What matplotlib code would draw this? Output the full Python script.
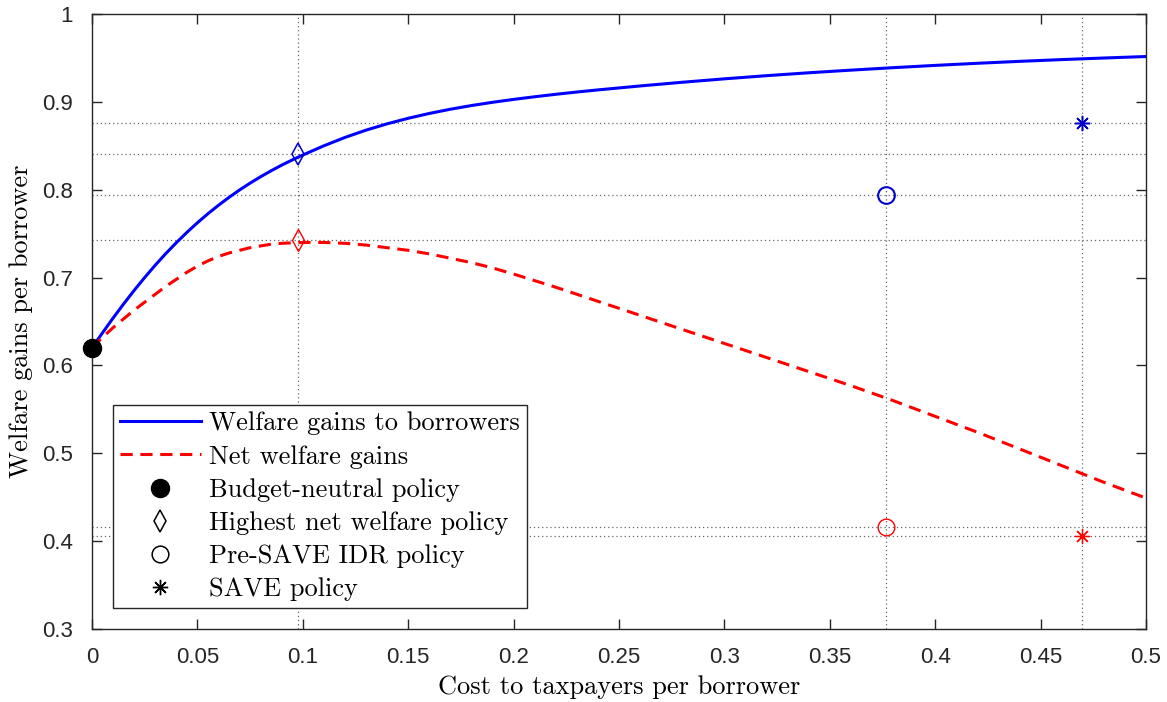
import matplotlib
matplotlib.use('Agg')
import matplotlib.pyplot as plt
from matplotlib.lines import Line2D

# welfare gains to borrowers (blue solid)
cost_w = [0, 0.005, 0.01, 0.015, 0.02, 0.025, 0.03, 0.035, 0.04, 0.045, 0.05, 0.055,
          0.06, 0.065, 0.07, 0.075, 0.08, 0.085, 0.09, 0.095, 0.10, 0.11, 0.12, 0.13,
          0.14, 0.15, 0.16, 0.17, 0.18, 0.19, 0.20, 0.21, 0.22, 0.23, 0.24, 0.26, 0.28, 0.30,
          0.32, 0.34, 0.36, 0.38, 0.40, 0.42, 0.44, 0.46, 0.48, 0.50]
gain_w = [0.6200, 0.6372, 0.6539, 0.6700, 0.6854, 0.7001, 0.7141, 0.7273, 0.7397, 0.7514,
          0.7624, 0.7727, 0.7823, 0.7913, 0.7997, 0.8075, 0.8148, 0.8216, 0.8280, 0.8339,
          0.8395, 0.8500, 0.8595, 0.8678, 0.8750, 0.8813, 0.8868, 0.8916, 0.8958, 0.8995,
          0.9028, 0.9058, 0.9086, 0.9112, 0.9136, 0.9181, 0.9223, 0.9262, 0.9298, 0.9331,
          0.9361, 0.9389, 0.9415, 0.9439, 0.9461, 0.9481, 0.9499, 0.9516]

# net welfare gains (red dashed)
cost_n = [0, 0.005, 0.01, 0.015, 0.02, 0.025, 0.03, 0.035, 0.04, 0.045, 0.05, 0.055,
          0.06, 0.065, 0.07, 0.075, 0.08, 0.085, 0.09, 0.10, 0.11, 0.12, 0.13, 0.14,
          0.15, 0.16, 0.17, 0.18, 0.19, 0.20, 0.22, 0.24, 0.26, 0.28, 0.30, 0.32, 0.34,
          0.36, 0.38, 0.40, 0.42, 0.44, 0.46, 0.48, 0.50]
gain_n = [0.620, 0.632, 0.643, 0.653, 0.663, 0.672, 0.681, 0.690, 0.698, 0.706, 0.713, 0.719,
          0.724, 0.728, 0.731, 0.734, 0.736, 0.738, 0.739, 0.740, 0.740, 0.739, 0.737, 0.734,
          0.731, 0.727, 0.722, 0.717, 0.711, 0.704, 0.689, 0.673, 0.657, 0.641, 0.625, 0.609, 0.593,
          0.577, 0.560, 0.542, 0.524, 0.505, 0.486, 0.467, 0.449]

# policy points
budget_neutral = (0, 0.62)
highest_net_x = 0.0977
highest_net_y = [0.8406, 0.7428]   # borrowers, net
presave_x = 0.3767
presave_y = [0.794, 0.416]
save_x = 0.4696
save_y = [0.876, 0.406]

xticks = [0, 0.05, 0.1, 0.15, 0.2, 0.25, 0.3, 0.35, 0.4, 0.45, 0.5]
yticks = [0.3, 0.4, 0.5, 0.6, 0.7, 0.8, 0.9, 1.0]

serif = 'cmr10'
plt.rcParams['font.family'] = ['Liberation Sans', 'DejaVu Sans']

fig = plt.figure(figsize=(11.67, 7.02), dpi=100)
ax = fig.add_axes([92 / 1167, 1 - 629 / 702, 1054 / 1167, 615 / 702])

# reference dotted lines
grid_kw = dict(color='0.4', linestyle=(0, (1, 2.3)), linewidth=0.9, zorder=1)
for xv in [highest_net_x, presave_x, save_x]:
    ax.axvline(xv, **grid_kw)
for yv in highest_net_y + presave_y + save_y:
    ax.axhline(yv, **grid_kw)

ax.plot(cost_w, gain_w, color='blue', linewidth=2.2, zorder=3)
ax.plot(cost_n, gain_n, color='red', linewidth=2.2, linestyle=(0, (4, 2.5)), zorder=3)

mk = dict(linestyle='none', markerfacecolor='none', zorder=4)
ax.plot(highest_net_x, highest_net_y[0], marker='d', ms=11, mec='#0000cc', mew=1.1, **mk)
ax.plot(highest_net_x, highest_net_y[1], marker='d', ms=11, mec='red', mew=1.0, **mk)
ax.plot(presave_x, presave_y[0], marker='o', ms=12, mec='#0000cc', mew=1.5, **mk)
ax.plot(presave_x, presave_y[1], marker='o', ms=12, mec='red', mew=1.0, **mk)
ax.plot(save_x, save_y[0], marker=(8, 2, 0), ms=11, mec='#0000cc', mew=1.1, **mk)
ax.plot(save_x, save_y[1], marker=(8, 2, 0), ms=11, mec='red', mew=0.9, **mk)
ax.plot(budget_neutral[0], budget_neutral[1], marker='o', ms=13, color='black',
        linestyle='none', zorder=5, clip_on=False)

ax.set_xlim(0, 0.5)
ax.set_ylim(0.3, 1.0)
ax.set_xticks(xticks)
ax.set_yticks(yticks)
ax.set_xticklabels(['0', '0.05', '0.1', '0.15', '0.2', '0.25', '0.3', '0.35', '0.4', '0.45', '0.5'])
ax.set_yticklabels(['0.3', '0.4', '0.5', '0.6', '0.7', '0.8', '0.9', '1'])
ax.tick_params(direction='in', length=7, width=1, top=True, right=True,
               labelsize=16, color='0.15', labelcolor='0.15')
ax.tick_params(axis='x', pad=13)
ax.tick_params(axis='y', pad=14)
for s in ax.spines.values():
    s.set_color('0.15')
    s.set_linewidth(1)

ax.set_xlabel('Cost to taxpayers per borrower', family=serif, fontsize=19, labelpad=5)
ax.set_ylabel('Welfare gains per borrower', family=serif, fontsize=19, labelpad=6)

handles = [
    Line2D([], [], color='blue', linewidth=2.2),
    Line2D([], [], color='red', linewidth=2.2, linestyle=(0, (4, 2.5))),
    Line2D([], [], color='black', marker='o', ms=13, linestyle='none'),
    Line2D([], [], color='black', marker='d', ms=11, mfc='none', mew=1.1, linestyle='none'),
    Line2D([], [], color='black', marker='o', ms=12, mfc='none', mew=1.1, linestyle='none'),
    Line2D([], [], color='black', marker=(8, 2, 0), ms=11, mew=1.0, linestyle='none'),
]
labels = ['Welfare gains to borrowers', 'Net welfare gains', 'Budget-neutral policy',
          'Highest net welfare policy', 'Pre-SAVE IDR policy', 'SAVE policy']
leg = ax.legend(handles, labels, loc='lower left', bbox_to_anchor=(0.0199, 0.034),
                prop={'family': serif, 'size': 19}, frameon=True, fancybox=False,
                edgecolor='0.15', framealpha=1, handlelength=3.1, handletextpad=0.3,
                labelspacing=0.36, borderpad=0.25, borderaxespad=0)
leg.get_frame().set_linewidth(1)

fig.savefig('out.png', dpi=100)
